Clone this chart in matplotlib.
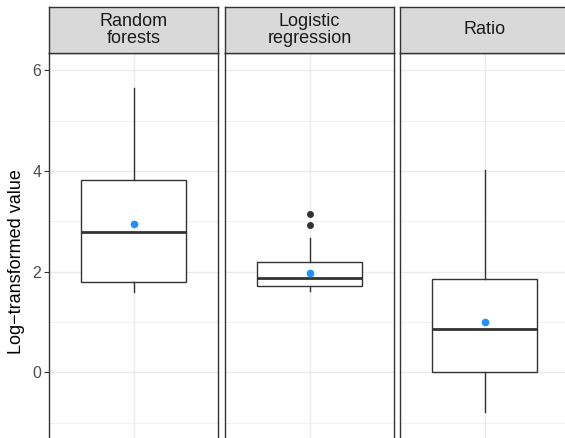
import matplotlib
matplotlib.use("Agg")
import matplotlib.pyplot as plt

plt.rcParams['font.family'] = ['Liberation Sans', 'DejaVu Sans']

# panel labels and box statistics
panels = ["Random\nforests", "Logistic\nregression", "Ratio"]
whislo = [1.60, 1.62, -0.78]
q1 = [1.79, 1.71, 0.00]
med = [2.79, 1.87, 0.86]
q3 = [3.83, 2.19, 1.85]
whishi = [5.64, 2.66, 4.02]
means = [2.95, 1.97, 0.99]
outliers = [[], [2.93, 3.15], []]

major_ticks = [0, 2, 4, 6]
minor_ticks = [-1, 1, 3, 5]

W, H = 565, 438
fig = plt.figure(figsize=(W / 100, H / 100), dpi=100)

# pixel layout helper
def px_axes(x0, y0, x1, y1):
    return fig.add_axes([x0 / W, 1 - y1 / H, (x1 - x0) / W, (y1 - y0) / H])

lefts = [49, 225, 400]
pw = 169
ptop, pbot = 53, 470
y0_px, unit = 372.3, 50.33
ylim = ((y0_px - pbot) / unit, (y0_px - ptop) / unit)

dark = "#333333"
for i, name in enumerate(panels):
    ax = px_axes(lefts[i], ptop, lefts[i] + pw, pbot)
    stats = [dict(whislo=whislo[i], q1=q1[i], med=med[i], q3=q3[i],
                  whishi=whishi[i], fliers=outliers[i])]
    ax.bxp(stats, positions=[1], widths=0.75, showcaps=False, patch_artist=True,
           boxprops=dict(facecolor="white", edgecolor=dark, linewidth=1.0),
           whiskerprops=dict(color=dark, linewidth=1.0),
           medianprops=dict(color=dark, linewidth=2.0),
           flierprops=dict(marker="o", markerfacecolor=dark, markeredgecolor=dark,
                           markersize=4))
    ax.plot([1], [means[i]], "o", color="#1E90FF", markersize=4.5, zorder=5)
    ax.set_xlim(0.4, 1.6)
    ax.set_ylim(*ylim)
    ax.set_yticks(major_ticks)
    ax.set_yticks(minor_ticks, minor=True)
    ax.set_xticks([1])
    ax.grid(True, which="major", color="#EBEBEB", linewidth=1.0)
    ax.grid(True, which="minor", axis="y", color="#EBEBEB", linewidth=0.5)
    ax.set_axisbelow(True)
    ax.tick_params(axis="x", length=0, labelbottom=False)
    ax.tick_params(axis="y", which="minor", length=0)
    if i == 0:
        ax.tick_params(axis="y", which="major", length=3.5, color=dark,
                       labelcolor="#4D4D4D", labelsize=11.5, pad=2)
        ax.set_ylabel("Log\u2212transformed value", fontsize=13, labelpad=5)
    else:
        ax.tick_params(axis="y", which="major", length=0, labelleft=False)
    for s in ax.spines.values():
        s.set_color(dark)
        s.set_linewidth(1.0)

    sax = px_axes(lefts[i], 7, lefts[i] + pw, ptop)
    sax.set_facecolor("#D9D9D9")
    sax.set_xticks([])
    sax.set_yticks([])
    for s in sax.spines.values():
        s.set_color(dark)
        s.set_linewidth(1.0)
    sax.text(0.5, 0.5, name, ha="center", va="center", fontsize=13,
             color="#1A1A1A", linespacing=1.05, transform=sax.transAxes)

fig.savefig("out.png", dpi=100)
